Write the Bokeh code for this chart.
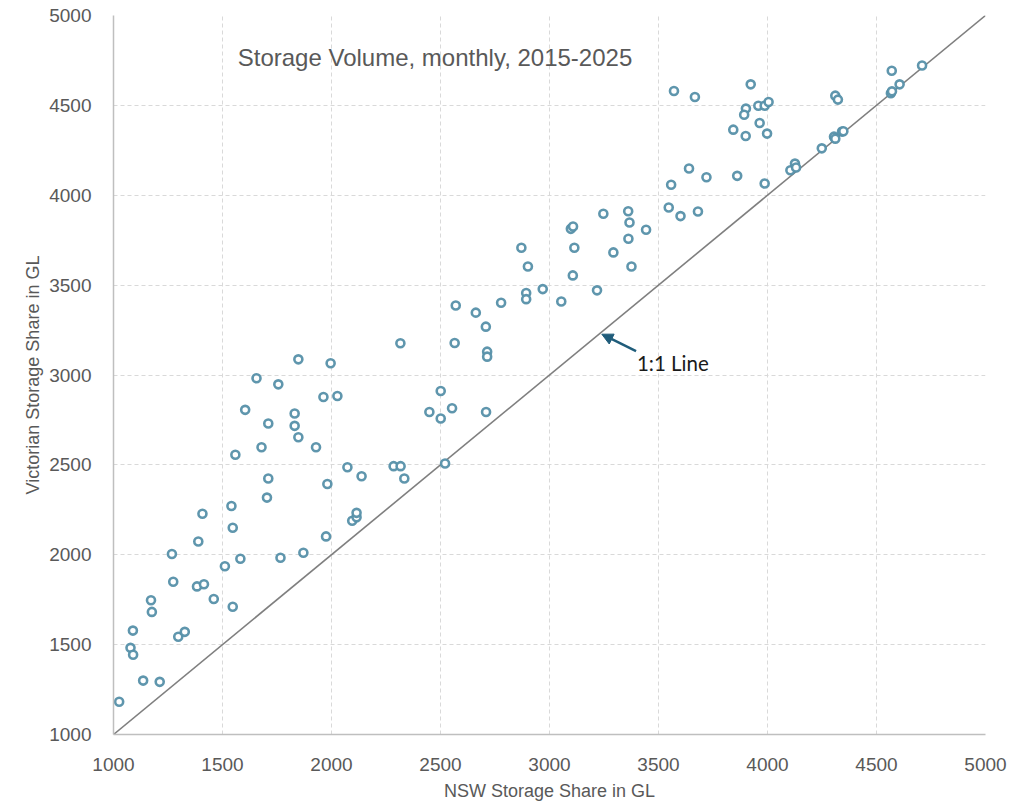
from bokeh.plotting import figure
from bokeh.models import Range1d, FixedTicker, Label, Arrow, NormalHead
from bokeh.embed import file_html
from bokeh.resources import INLINE

# NSW storage share (GL) and Victorian storage share (GL), monthly 2015-2025
nsw = [1026, 1136, 1212, 1078, 1090, 1089, 1297, 1327, 1176, 1172,
       1274, 1268, 1383, 1415, 1460, 1547, 1511, 1582, 1389, 1408,
       1541, 1547, 1766, 1871, 1975, 2095, 2115, 2115, 1704, 1848,
       1996, 1656, 1756, 1963, 2027, 1604, 1831, 1710, 1831, 1848,
       1679, 1929, 1559, 2073, 2138, 1710, 1981, 2316, 2285, 2317,
       2334, 2521, 2501, 2449, 2501, 2553, 2709, 2570, 2662, 2565,
       2708, 2714, 2714, 2778, 2901, 2893, 2893, 2969, 3054, 3107,
       2871, 3218, 3114, 3098, 3108, 3247, 3361, 3367, 3443, 3362,
       3293, 3376, 3558, 3547, 3601, 3681, 3640, 3720, 3861, 3987,
       3571, 3667, 3923, 3958, 3987, 4005, 3901, 3893, 3964, 3843,
       3900, 3998, 4311, 4323, 4570, 4709, 4566, 4571, 4606, 4305,
       4311, 4342, 4348, 4249, 4105, 4126, 4131]
vic = [1182, 1300, 1293, 1482, 1444, 1578, 1544, 1571, 1682, 1747,
       1850, 2004, 1824, 1836, 1754, 1711, 1936, 1978, 2074, 2228,
       2271, 2150, 1983, 2011, 2102, 2189, 2208, 2233, 2318, 3087,
       3065, 2982, 2948, 2878, 2883, 2806, 2786, 2730, 2717, 2654,
       2598, 2598, 2556, 2487, 2437, 2424, 2394, 3177, 2493, 2493,
       2424, 2508, 2911, 2794, 2758, 2815, 2794, 3387, 3347, 3178,
       3269, 3130, 3102, 3402, 3604, 3456, 3422, 3478, 3409, 3554,
       3708, 3471, 3708, 3813, 3826, 3897, 3911, 3848, 3808, 3758,
       3682, 3604, 4058, 3932, 3884, 3910, 4149, 4100, 4108, 4065,
       4580, 4547, 4617, 4498, 4498, 4519, 4482, 4448, 4402, 4365,
       4330, 4343, 4554, 4532, 4693, 4722, 4568, 4578, 4617, 4326,
       4315, 4354, 4356, 4261, 4139, 4176, 4154]

ticks = [1000, 1500, 2000, 2500, 3000, 3500, 4000, 4500, 5000]
line_x = [1000, 5000]
line_y = [1000, 5000]

title_text = "Storage Volume, monthly, 2015-2025"
x_title = "NSW Storage Share in GL"
y_title = "Victorian Storage Share in GL"
line_label = "1:1 Line"

p = figure(width=1015, height=803, output_backend="svg", toolbar_location=None,
           x_range=Range1d(1000, 5000), y_range=Range1d(1000, 5000),
           min_border_left=113, min_border_top=15, min_border_right=30,
           min_border_bottom=66)
p.outline_line_color = None
p.background_fill_color = "white"
p.border_fill_color = "white"

for ax in (p.xaxis[0], p.yaxis[0]):
    ax.ticker = FixedTicker(ticks=ticks)
    ax.major_tick_line_color = None
    ax.minor_tick_line_color = None
    ax.major_tick_out = 0
    ax.major_tick_in = 0
    ax.axis_line_color = "#bfbfbf"
    ax.axis_line_width = 1.5
    ax.major_label_text_font = "Liberation Sans"
    ax.major_label_text_font_size = "19px"
    ax.major_label_text_color = "#595959"
    ax.axis_label_text_font = "Liberation Sans"
    ax.axis_label_text_font_size = "18px"
    ax.axis_label_text_font_style = "normal"
    ax.axis_label_text_color = "#595959"

p.xaxis.axis_label = x_title
p.yaxis.axis_label = y_title
p.xaxis.major_label_standoff = 23
p.xaxis.axis_label_standoff = 7
p.yaxis.major_label_standoff = 22
p.yaxis.axis_label_standoff = 3

for g in (p.xgrid[0], p.ygrid[0]):
    g.ticker = FixedTicker(ticks=ticks)
    g.grid_line_color = "#d9d9d9"
    g.grid_line_dash = "4 3"
    g.grid_line_width = 1

p.line(line_x, line_y, line_color="#7f7f7f", line_width=1.6)

p.scatter(nsw, vic, marker="circle", size=8, fill_color="white",
          line_color="#5690a9", line_width=2.6, line_alpha=0.95)

p.add_layout(Label(x=1570, y=4767, text=title_text, text_font="Liberation Sans",
                   text_font_size="24px", text_color="#595959",
                   text_baseline="middle", text_align="left"))

p.add_layout(Arrow(end=NormalHead(size=11, fill_color="#1f5c7a", line_color="#1f5c7a"),
                   x_start=3397, y_start=3133, x_end=3240, y_end=3227,
                   line_color="#1f5c7a", line_width=2.5))
p.add_layout(Label(x=3401, y=3067, text=line_label, text_font="Lato",
                   text_font_size="20.5px", text_color="#1a1a1a",
                   text_baseline="middle", text_align="left"))

open("out.html", "w").write(file_html(p, INLINE))
